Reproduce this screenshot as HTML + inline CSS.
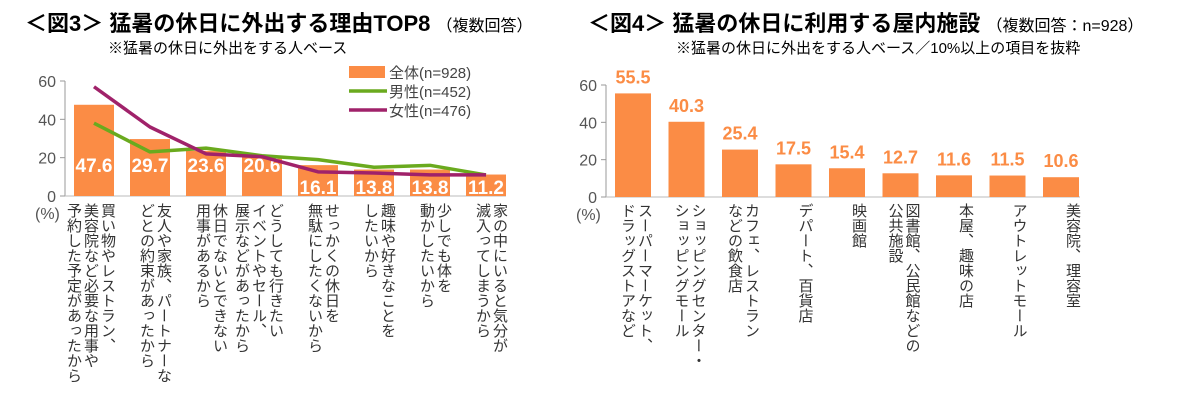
<!DOCTYPE html>
<html><head><meta charset="utf-8">
<style>
body{margin:0;width:1200px;height:408px;background:#fff;overflow:hidden;position:relative;font-family:"Liberation Sans","Noto Sans CJK JP",sans-serif;color:#000}
.t{position:absolute;white-space:nowrap}
.title{font-size:22px;font-weight:bold;top:6px}
.title small{font-size:16px;font-weight:normal}
.sub{font-size:15px;top:37px}
.vl{position:absolute;writing-mode:vertical-rl;font-size:15px;line-height:17px;color:#333;top:203px;white-space:pre}
svg{position:absolute;left:0;top:0}
</style></head><body>
<div class="t title" style="left:25px">＜図3＞ 猛暑の休日に外出する理由TOP8 <small>（複数回答）</small></div>
<div class="t sub" style="left:108px">※猛暑の休日に外出をする人ベース</div>
<div class="t title" style="left:588px">＜図4＞ 猛暑の休日に利用する屋内施設 <small>（複数回答：n=928）</small></div>
<div class="t sub" style="left:676px">※猛暑の休日に外出をする人ベース／10%以上の項目を抜粋</div>
<svg id="svg" width="1200" height="408"></svg>
<div id="labels"></div>
<script>
const cats3=["買い物やレストラン、\n美容院など必要な用事や\n予約した予定があったから","友人や家族、パートナーな\nどとの約束があったから","休日でないとできない\n用事があるから","どうしても行きたい\nイベントやセール、\n展示などがあったから","せっかくの休日を\n無駄にしたくないから","趣味や好きなことを\nしたいから","少しでも体を\n動かしたいから","家の中にいると気分が\n滅入ってしまうから"];
const total3=[47.6,29.7,23.6,20.6,16.1,13.8,13.8,11.2];
const male3=[38,23,25,21,19,15,16,11];
const female3=[57,36,22,20.5,12.6,12,11,11];
const ticks=[0,20,40,60];
const cats4=["スーパーマーケット、\nドラッグストアなど","ショッピングセンター・\nショッピングモール","カフェ、レストラン\nなどの飲食店","デパート、百貨店","映画館","図書館、公民館などの\n公共施設","本屋、趣味の店","アウトレットモール","美容院、理容室"];
const vals4=[55.5,40.3,25.4,17.5,15.4,12.7,11.6,11.5,10.6];

const NS="http://www.w3.org/2000/svg",svg=document.getElementById('svg'),lab=document.getElementById('labels');
function mk(tag,attrs,txt){const e=document.createElementNS(NS,tag);for(const k in attrs)e.setAttribute(k,attrs[k]);if(txt!=null)e.textContent=txt;svg.appendChild(e);return e;}
function chart(o){
  const y=v=>o.y0-v/60*(o.y0-o.y60);
  const xl=i=>o.x0+o.off+i*o.step;
  let ax=mk('line',{x1:o.axX,x2:o.axX,y1:y(60),y2:o.y0,stroke:'#999','stroke-width':1});
  
  mk('line',{x1:o.axX,x2:o.xEnd,y1:o.y0,y2:o.y0,stroke:'#bbb','stroke-width':1});
  ticks.forEach(t=>{
    mk('line',{x1:o.axX-5,x2:o.axX,y1:y(t),y2:y(t),stroke:'#999'});
    const tx=mk('text',{x:o.axX-9,y:y(t)+6,'text-anchor':'end','font-size':16,fill:'#555'},t);
    
  });
  const u=mk('text',{x:o.axX-30,y:o.y0+23,'font-size':16,fill:'#555'},'(%)');
  
  o.vals.forEach((v,i)=>{
    const r=mk('rect',{x:xl(i),y:y(v),width:o.bw,height:o.y0-y(v),fill:'#fb8c45'});
    
    const inside=o.inside;
    const t=mk('text',{x:xl(i)+o.bw/2,y:inside?(v>19?o.y0-24:o.y0-2):y(v)-10,'text-anchor':'middle','font-size':inside?19:18,'font-weight':'bold',fill:inside?'#fff':'#fb8c45'},v.toFixed(1));
    
    const d=document.createElement('div');d.className='vl';
    d.textContent=o.cats[i];
    d.style.right=(1200-(xl(i)+o.bw+2))+'px';
    
    lab.appendChild(d);
  });
  return {y,xl};
}
const c3=chart({id:'chart3',axX:65,x0:65,off:9,step:56,bw:40,y0:196,y60:81,xEnd:506,vals:total3,cats:cats3,inside:true});
[[male3,'#6aaa1e','male'],[female3,'#a0226a','female']].forEach(([arr,col,n])=>{
  const pts=arr.map((v,i)=>(c3.xl(i)+20)+','+c3.y(v)).join(' ');
  const p=mk('polyline',{points:pts,fill:'none',stroke:col,'stroke-width':3.5,'stroke-linejoin':'round'});
  
});
const lg=[['全体(n=928)','bar','#fb8c45'],['男性(n=452)','line','#6aaa1e'],['女性(n=476)','line','#a0226a']];
lg.forEach((l,i)=>{
  const yy=72+i*19;
  if(l[1]=='bar'){mk('rect',{x:349,y:yy-6,width:36,height:12,fill:l[2]});}
  else{mk('line',{x1:349,x2:387,y1:yy,y2:yy,stroke:l[2],'stroke-width':3.5});}
  const t=mk('text',{x:389,y:yy+6,'font-size':15,fill:'#444'},l[0]);
  
});
chart({id:'chart4',axX:606,x0:606,off:9,step:53.5,bw:36,y0:197,y60:85,xEnd:1080,vals:vals4,cats:cats4,inside:false});
</script>
</body></html>
